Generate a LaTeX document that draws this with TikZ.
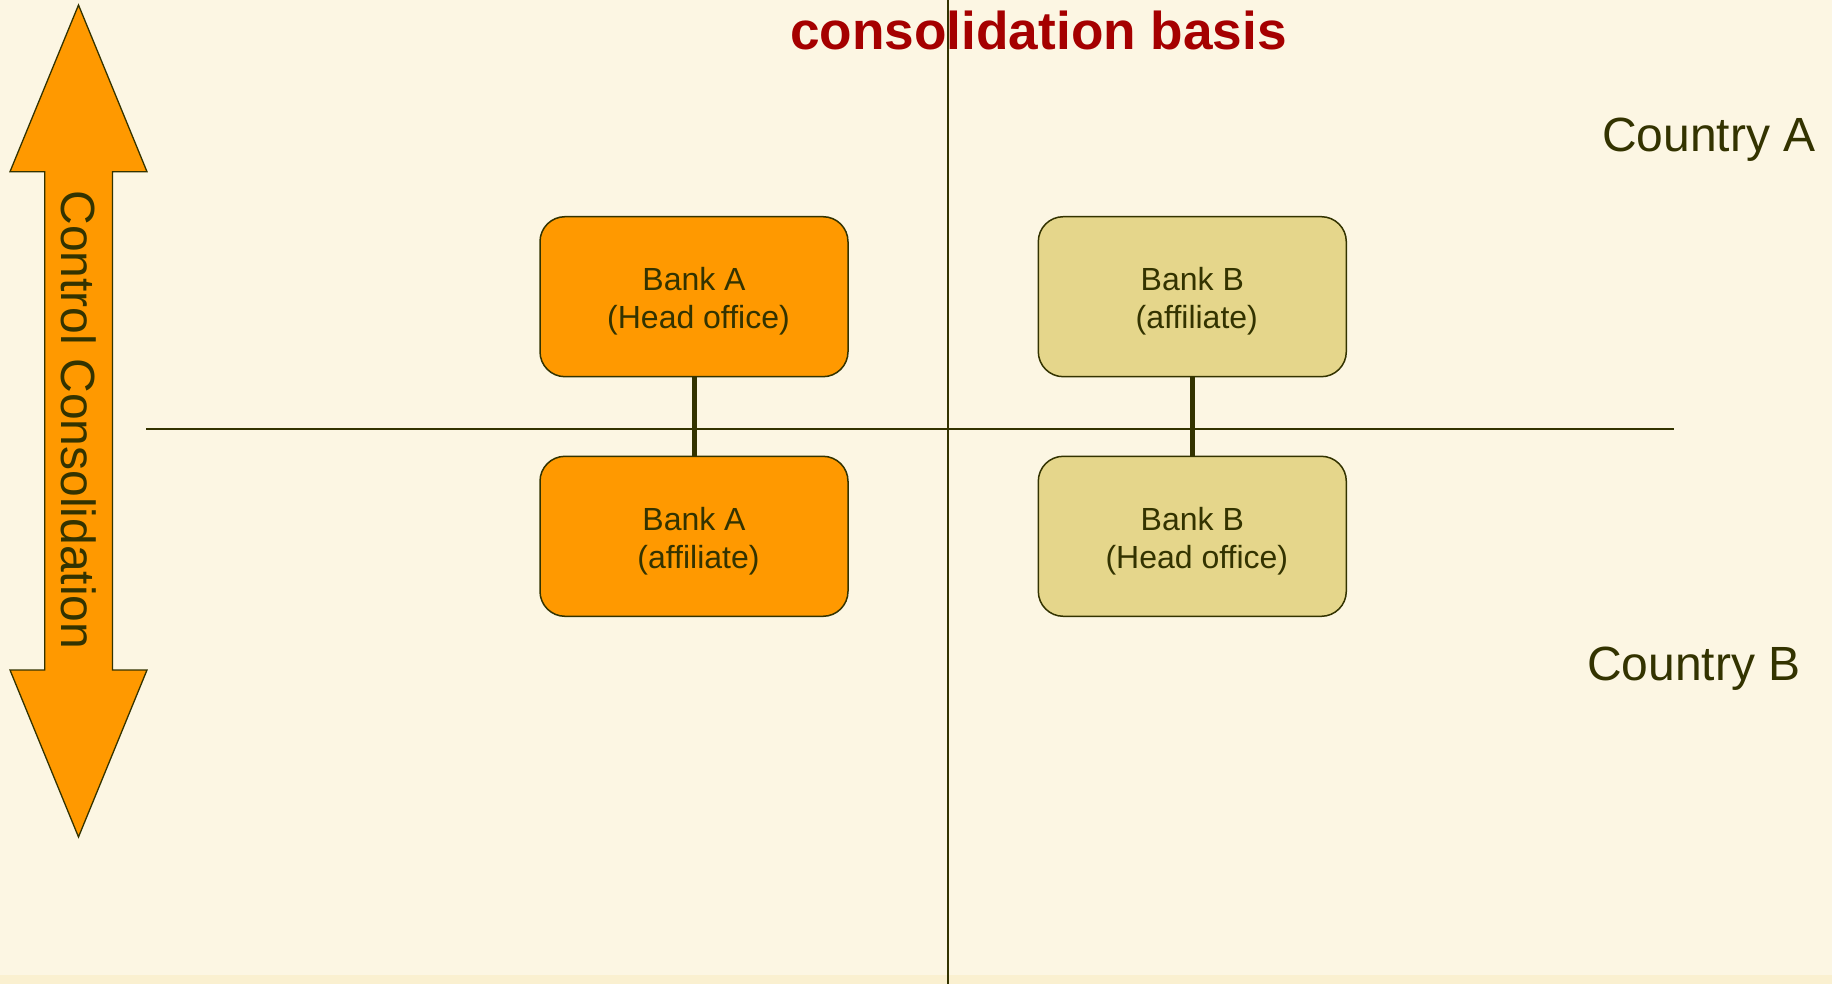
\documentclass[tikz,border=0pt]{standalone}
\usepackage{fontspec}
\setmainfont{Liberation Sans}
\definecolor{bg}{RGB}{252,246,227}
\definecolor{strip}{RGB}{250,240,208}
\definecolor{dark}{RGB}{51,51,0}
\definecolor{orangefill}{RGB}{255,153,0}
\definecolor{tanfill}{RGB}{229,214,139}
\definecolor{titlered}{RGB}{165,0,0}
\begin{document}
\begin{tikzpicture}[x=1pt,y=-1pt,
  bankbox/.style={rectangle, rounded corners=25pt, minimum width=308pt, minimum height=160pt,
    draw=dark, line width=1.5pt, inner sep=0pt},
  orangebox/.style={bankbox, fill=orangefill},
  tanbox/.style={bankbox, fill=tanfill},
  banktext/.style={align=center, text=dark, inner sep=0pt, yshift=-4.8pt,
    font=\fontsize{32}{38.3}\selectfont},
  conn/.style={draw=dark, line width=5pt},
  divider/.style={draw=dark, line width=1.6pt},
  country/.style={text=dark, inner sep=0pt, font=\fontsize{48}{56}\selectfont},
]
\useasboundingbox (0,0) rectangle (1832,984);
\fill[bg] (0,0) rectangle (1832,984);
\fill[strip] (0,975) rectangle (1832,984);

% double arrow
\draw[fill=orangefill, draw=dark, line width=1.3pt, line join=miter]
  (78.5,5) -- (147,171.7) -- (112.5,171.7) -- (112.5,670) -- (147,670) -- (78.5,837)
  -- (10,670) -- (44.7,670) -- (44.7,171.7) -- (10,171.7) -- cycle;
\node[rotate=-90, anchor=base, text=dark, inner sep=0pt, font=\fontsize{48}{56}\selectfont]
  (ctrl) at (61,420) {Control Consolidation};

% dividers
\coordinate (hl) at (146,428.6);
\coordinate (hr) at (1674,428.6);
\coordinate (vt) at (948,0);
\coordinate (vb) at (948,984);
\draw[divider, line width=2pt] (hl) -- (hr);
\draw[divider] (vt) -- (vb);

% title
\node[anchor=base west, inner sep=0pt, text=titlered, font=\fontsize{53.2}{60}\selectfont\bfseries]
  (title) at (790,49.3) {consolidation basis};

% countries
\node[country, anchor=base west] (cA) at (1602,151.7) {Country A};
\node[country, anchor=base west] (cB) at (1587,680) {Country B};

% banks
\node[orangebox] (a1) at (694,296.7) {};
\node[orangebox] (a2) at (694,536.3) {};
\node[tanbox] (b1) at (1192.3,296.7) {};
\node[tanbox] (b2) at (1192.3,536.3) {};
\node[banktext] (ta1) at (a1.center) {Bank A\\\hspace*{9pt}(Head office)};
\node[banktext] (ta2) at (a2.center) {Bank A\\\hspace*{9pt}(affiliate)};
\node[banktext] (tb1) at (b1.center) {Bank B\\\hspace*{9pt}(affiliate)};
\node[banktext] (tb2) at (b2.center) {Bank B\\\hspace*{9pt}(Head office)};

\draw[conn] (a1.south) -- (a2.north);
\draw[conn] (b1.south) -- (b2.north);
\end{tikzpicture}
\end{document}
